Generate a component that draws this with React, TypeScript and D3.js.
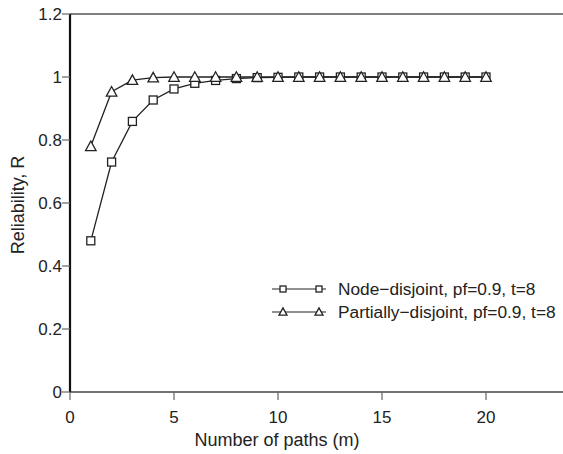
import * as d3 from 'd3';

// paths m = 1..20
const paths = d3.range(1, 21);
const nodeDisjoint = [0.48, 0.73, 0.859, 0.927, 0.962, 0.98, 0.989, 0.995, 0.998, 0.999,
  1, 1, 1, 1, 1, 1, 1, 1, 1, 1];
const partiallyDisjoint = [0.78, 0.953, 0.99, 0.998, 1, 1, 1, 1, 1, 1,
  1, 1, 1, 1, 1, 1, 1, 1, 1, 1];
const xTicks = [0, 5, 10, 15, 20];
const yTicks = [0, 0.2, 0.4, 0.6, 0.8, 1, 1.2];
const legendLabels = ['Node\u2212disjoint, pf=0.9, t=8', 'Partially\u2212disjoint, pf=0.9, t=8'];

const W = 563, H = 454;
const left = 70, top = 14, bottom = 392;
const font = 'Liberation Sans, Arial, sans-serif';
const ink = '#222';

const x = d3.scaleLinear().domain([0, 20]).range([left, 486]);
const y = d3.scaleLinear().domain([0, 1.2]).range([bottom, top]);

const Square = ({ cx, cy, s }: { cx: number; cy: number; s: number }) => (
  <rect x={cx - s / 2} y={cy - s / 2} width={s} height={s} fill="#fff" stroke={ink} strokeWidth={1.3} />
);

const Triangle = ({ cx, cy, s }: { cx: number; cy: number; s: number }) => {
  const h = s * 0.9;
  const pts = `${cx},${cy - h / 2 - 1} ${cx - s / 2 - 0.5},${cy + h / 2} ${cx + s / 2 + 0.5},${cy + h / 2}`;
  return <polygon points={pts} fill="#fff" stroke={ink} strokeWidth={1.3} />;
};

export default function App() {
  const line = d3.line<number>().x((_, i) => x(paths[i])).y(d => y(d));

  return (
    <svg width={W} height={H} style={{ position: 'absolute', left: 0, top: 0, background: '#fff' }}>
      {/* frame */}
      <line x1={left} x2={W} y1={top} y2={top} stroke="#555" strokeWidth={1.5} />
      <line x1={left} x2={W} y1={bottom} y2={bottom} stroke="#444" strokeWidth={1.5} />
      <line x1={left} x2={left} y1={top} y2={bottom} stroke="#111" strokeWidth={2.2} />

      {/* y ticks */}
      {yTicks.map(t => (
        <g key={t}>
          <line x1={left - 8} x2={left} y1={y(t)} y2={y(t)} stroke="#666" strokeWidth={1.2} />
          <text x={62} y={y(t) + 6} textAnchor="end" fontFamily={font} fontSize={17} fill={ink}>
            {String(t)}
          </text>
        </g>
      ))}

      {/* x ticks */}
      {xTicks.map(t => (
        <g key={t}>
          <line x1={x(t)} x2={x(t)} y1={bottom} y2={bottom + 8} stroke="#666" strokeWidth={1.2} />
          <text x={x(t)} y={423} textAnchor="middle" fontFamily={font} fontSize={17} fill={ink}>
            {t}
          </text>
        </g>
      ))}

      <text x={277} y={446} textAnchor="middle" fontFamily={font} fontSize={18} fill={ink}>
        Number of paths (m)
      </text>
      <text transform="translate(24,205) rotate(-90)" textAnchor="middle" fontFamily={font} fontSize={18} fill={ink}>
        Reliability, R
      </text>

      {/* series */}
      <path d={line(nodeDisjoint) ?? ''} fill="none" stroke={ink} strokeWidth={1.3} />
      <path d={line(partiallyDisjoint) ?? ''} fill="none" stroke={ink} strokeWidth={1.3} />
      {nodeDisjoint.map((v, i) => <Square key={'s' + i} cx={x(paths[i])} cy={y(v)} s={8} />)}
      {partiallyDisjoint.map((v, i) => <Triangle key={'t' + i} cx={x(paths[i])} cy={y(v)} s={9.5} />)}

      {/* legend */}
      {legendLabels.map((lab, i) => {
        const ly = 289 + i * 23;
        return (
          <g key={lab}>
            <line x1={272} x2={326} y1={ly} y2={ly} stroke={ink} strokeWidth={1.2} />
            {i === 0 ? (
              <>
                <Square cx={283} cy={ly} s={6} />
                <Square cx={319} cy={ly} s={6} />
              </>
            ) : (
              <>
                <Triangle cx={283} cy={ly} s={7} />
                <Triangle cx={319} cy={ly} s={7} />
              </>
            )}
            <text x={338} y={ly + 6} fontFamily={font} fontSize={17.3} fill={ink}>{lab}</text>
          </g>
        );
      })}
    </svg>
  );
}
